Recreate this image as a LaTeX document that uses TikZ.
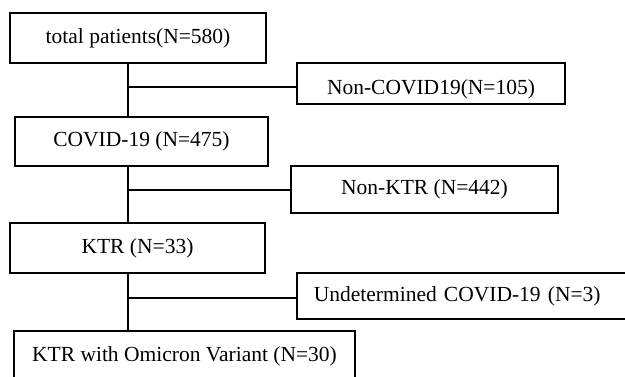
\documentclass[tikz,border=0pt]{standalone}
\usepackage{fontspec}
\setmainfont{Liberation Serif}
\begin{document}
\begin{tikzpicture}[x=1pt,y=-1pt,
  box/.style={draw=black, line width=1.6pt, inner sep=0pt, font=\fontsize{21.5}{24}\selectfont},
  link/.style={draw=black, line width=1.6pt}]
\clip (0,0) rectangle (625,377);
\node[box, minimum width=256pt, minimum height=50pt] (total) at (138,38) {total patients(N=580)};
\node[box, minimum width=268pt, text height=32pt, text depth=9pt, anchor=north] (noncovid) at (431,62) {Non-COVID19(N=105)};
\node[box, minimum width=253pt, minimum height=49pt] (covid) at (141.5,141.5) {COVID-19 (N=475)};
\node[box, minimum width=267pt, minimum height=47pt] (nonktr) at (424.5,189.5) {Non-KTR (N=442)};
\node[box, minimum width=255pt, minimum height=50pt] (ktr) at (137.5,248) {KTR (N=33)};
\node[box, anchor=west, text width=302pt, align=left, inner xsep=17pt, minimum height=46pt] (undet) at (296,296) {Undetermined COVID-19 (N=3)};
\node[box, minimum width=341pt, minimum height=50pt] (omicron) at (184.5,356) {KTR with Omicron Variant (N=30)};
\coordinate (b1) at (128,87);
\coordinate (b2) at (128,190);
\coordinate (b3) at (128,298);
\draw[link] (total.south -| b1) -- (covid.north -| b1);
\draw[link] (b1) -- (b1 -| noncovid.west);
\draw[link] (covid.south -| b2) -- (ktr.north -| b2);
\draw[link] (b2) -- (b2 -| nonktr.west);
\draw[link] (ktr.south -| b3) -- (omicron.north -| b3);
\draw[link] (b3) -- (b3 -| undet.west);
\end{tikzpicture}
\end{document}
